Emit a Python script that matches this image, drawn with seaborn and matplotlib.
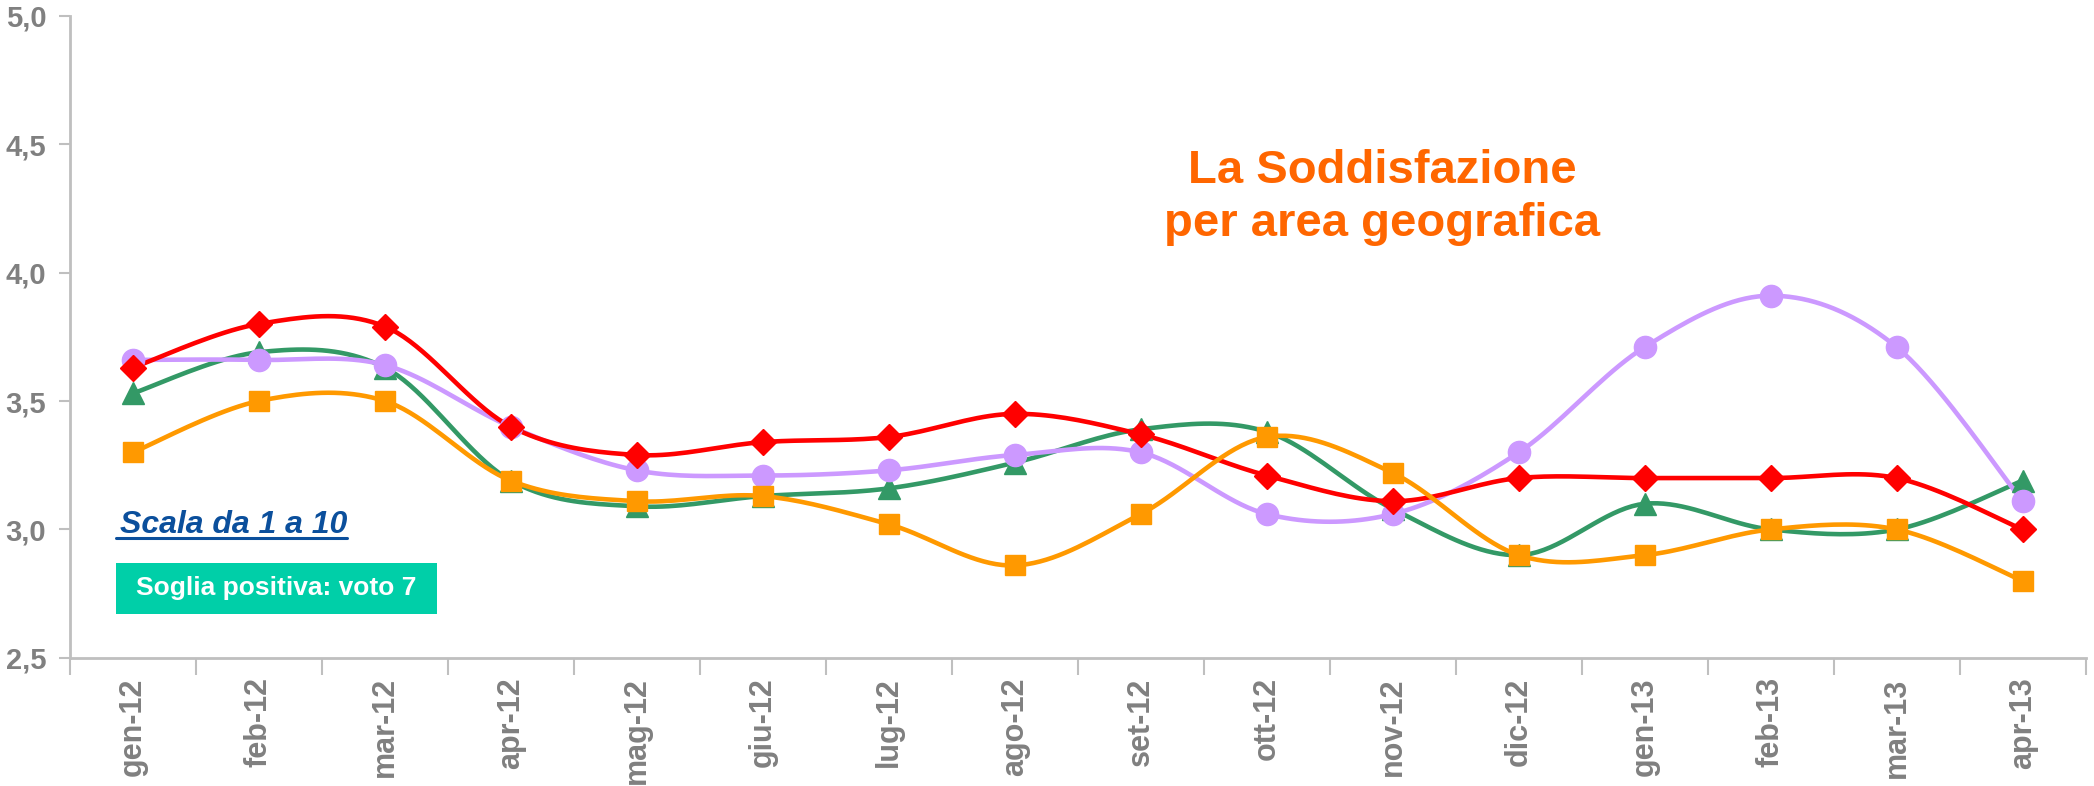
import numpy as np
import pandas as pd
import seaborn as sns
import matplotlib.pyplot as plt
from matplotlib.patches import Rectangle
from matplotlib.lines import Line2D

# Months on the x axis
months = ['gen-12', 'feb-12', 'mar-12', 'apr-12', 'mag-12', 'giu-12', 'lug-12', 'ago-12',
          'set-12', 'ott-12', 'nov-12', 'dic-12', 'gen-13', 'feb-13', 'mar-13', 'apr-13']

# Satisfaction per geographic area
red_vals = [3.63, 3.80, 3.79, 3.40, 3.29, 3.34, 3.36, 3.45, 3.37, 3.21, 3.11, 3.20, 3.20, 3.20, 3.20, 3.00]
green_vals = [3.53, 3.69, 3.63, 3.19, 3.09, 3.13, 3.16, 3.26, 3.39, 3.38, 3.08, 2.90, 3.10, 3.00, 3.00, 3.19]
purple_vals = [3.66, 3.66, 3.64, 3.40, 3.23, 3.21, 3.23, 3.29, 3.30, 3.06, 3.06, 3.30, 3.71, 3.91, 3.71, 3.11]
orange_vals = [3.30, 3.50, 3.50, 3.19, 3.11, 3.13, 3.02, 2.86, 3.06, 3.36, 3.22, 2.90, 2.90, 3.00, 3.00, 2.80]

y_ticks = [2.5, 3.0, 3.5, 4.0, 4.5, 5.0]

# drawing order bottom -> top
series = [
    ('green', green_vals, '#339966', '^', 16),
    ('purple', purple_vals, '#CC99FF', 'o', 16),
    ('red', red_vals, '#FF0000', 'D', 13),
    ('orange', orange_vals, '#FF9900', 's', 15),
]


def smooth(y, steps=20):
    # Catmull-Rom curve through the points, like Excel's "smoothed line"
    y = np.asarray(y, dtype=float)
    x = np.arange(len(y), dtype=float)
    xp = np.concatenate([[x[0]], x, [x[-1]]])
    yp = np.concatenate([[y[0]], y, [y[-1]]])
    xs, ys = [], []
    t = np.linspace(0, 1, steps, endpoint=False)
    for i in range(1, len(xp) - 2):
        for arr, out in ((xp, xs), (yp, ys)):
            p0, p1, p2, p3 = arr[i - 1], arr[i], arr[i + 1], arr[i + 2]
            out.extend(0.5 * ((2 * p1) + (-p0 + p2) * t + (2 * p0 - 5 * p1 + 4 * p2 - p3) * t ** 2
                              + (-p0 + 3 * p1 - 3 * p2 + p3) * t ** 3))
    xs.append(x[-1])
    ys.append(y[-1])
    return np.array(xs), np.array(ys)


sns.set_theme(style='white')
plt.rcParams['font.family'] = ['Liberation Sans', 'DejaVu Sans']

fig = plt.figure(figsize=(20.94, 7.86), dpi=100)
ax = fig.add_axes([0.0334, 0.163, 0.9626, 0.817])

for name, vals, color, marker, ms in series:
    xs, ys = smooth(vals)
    sns.lineplot(x=xs, y=ys, ax=ax, color=color, linewidth=3.3, sort=False, estimator=None)
    df = pd.DataFrame({'x': np.arange(len(months)), 'y': vals})
    ax.plot(df['x'], df['y'], linestyle='none', marker=marker, markersize=ms,
            color=color, markeredgecolor=color, zorder=3)

ax.set_xlim(-0.5, len(months) - 0.5)
ax.set_ylim(2.5, 5.0)
ax.set_yticks(y_ticks)
ax.set_yticklabels([f'{v:.1f}'.replace('.', ',') for v in y_ticks])
ax.set_xticks(np.arange(len(months)))
ax.set_xticklabels(months, rotation=90)
ax.set_xticks(np.arange(len(months) + 1) - 0.5, minor=True)

for lab in ax.get_yticklabels():
    lab.set_fontweight('bold')
for lab in ax.get_xticklabels():
    lab.set_fontweight('bold')

ax.tick_params(axis='y', which='major', left=True, length=8, width=1.5, color='#BFBFBF',
               labelsize=21, labelcolor='#808080', pad=9)
ax.tick_params(axis='x', which='major', bottom=True, length=0, labelsize=22,
               labelcolor='#808080', pad=14)
ax.tick_params(axis='x', which='minor', bottom=True, length=12, width=1.5, color='#BFBFBF')

for side in ['top', 'right']:
    ax.spines[side].set_visible(False)
for side in ['left', 'bottom']:
    ax.spines[side].set_color('#BFBFBF')
    ax.spines[side].set_linewidth(2)
ax.grid(False)

# title inside the plot
fig.text(0.66, 0.749, 'La Soddisfazione\nper area geografica', ha='center', va='center',
         fontsize=34, fontweight='bold', color='#FF6600', linespacing=1.25)

# scale note, underlined
note = fig.text(0.0573, 0.322, 'Scala da 1 a 10', ha='left', va='baseline', fontsize=23,
                fontweight='bold', fontstyle='italic', color='#0B4F9C')
fig.canvas.draw()
bb = note.get_window_extent().transformed(fig.transFigure.inverted())
fig.add_artist(Line2D([bb.x0 - 0.002, bb.x1], [0.316, 0.316], transform=fig.transFigure,
                      color='#0B4F9C', linewidth=2.2))

# threshold box
fig.add_artist(Rectangle((116 / 2094, 1 - 614 / 786), (437 - 116) / 2094, 51 / 786,
                         transform=fig.transFigure, facecolor='#00CFA8', edgecolor='none'))
fig.text((116 + 437) / 2 / 2094, 1 - 588.5 / 786, 'Soglia positiva: voto 7', ha='center',
         va='center', fontsize=19, fontweight='bold', color='white')

fig.savefig('out.png', dpi=100, facecolor='white')
